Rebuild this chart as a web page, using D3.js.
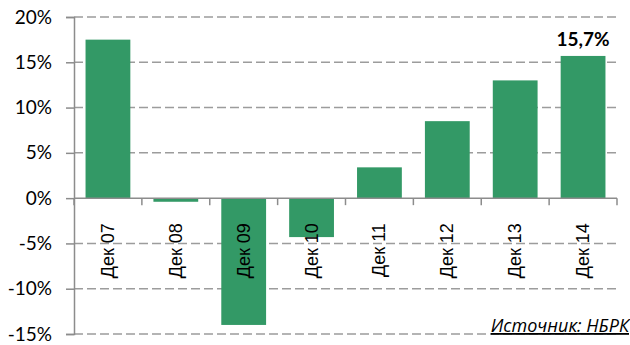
<!DOCTYPE html>
<html>
<head>
<meta charset="utf-8">
<script src="https://cdn.jsdelivr.net/npm/d3@7"></script>
<style>
  body { margin: 0; background: #fff; }
  svg { display: block; }
</style>
</head>
<body>
<div id="chart"></div>
<script>
// data
var months = ['Дек 07', 'Дек 08', 'Дек 09', 'Дек 10', 'Дек 11', 'Дек 12', 'Дек 13', 'Дек 14'];
var growth = [17.5, -0.4, -14.0, -4.3, 3.4, 8.5, 13.0, 15.7];
var yTicks = [-15, -10, -5, 0, 5, 10, 15, 20];
var labelText = '15,7%';
var sourceText = 'Источник: НБРК';

var svgWidth = 630;
var svgHeight = 345;

var margin = { top: 17, right: 13, bottom: 11, left: 74 };
var chartWidth = svgWidth - margin.left - margin.right;
var chartHeight = svgHeight - margin.top - margin.bottom;

var svg = d3.select('#chart').append('svg')
    .attr('width', svgWidth)
    .attr('height', svgHeight);

var g = svg.append('g')
    .attr('transform', `translate(${margin.left}, ${margin.top})`);

var xScale = d3.scaleBand()
    .domain(months)
    .range([0, chartWidth])
    .paddingInner(0.34)
    .paddingOuter(0.17);

var yScale = d3.scaleLinear()
    .domain([-15, 20])
    .range([chartHeight, 0]);

var gray = '#8c8c8c';

// dashed gridlines
g.append('g')
  .selectAll('line')
  .data(yTicks.filter(d => d !== 0))
  .enter().append('line')
    .attr('x1', 0)
    .attr('x2', chartWidth)
    .attr('y1', d => yScale(d))
    .attr('y2', d => yScale(d))
    .attr('stroke', '#9c9c9c')
    .attr('stroke-width', 1.5)
    .attr('stroke-dasharray', '9,4');

// bars
g.selectAll('rect')
  .data(growth)
  .enter().append('rect')
    .attr('x', (d, i) => xScale(months[i]))
    .attr('width', xScale.bandwidth())
    .attr('y', d => yScale(Math.max(0, d)))
    .attr('height', d => Math.abs(yScale(d) - yScale(0)))
    .attr('fill', '#339966');

// y axis
var yAxis = d3.axisLeft(yScale)
    .tickValues(yTicks)
    .tickSize(8)
    .tickPadding(14)
    .tickFormat(d => d + '%');

var yg = g.append('g').call(yAxis);
yg.select('.domain').attr('stroke', gray).attr('stroke-width', 1.5);
yg.selectAll('.tick line').attr('stroke', gray).attr('stroke-width', 1.5);
yg.selectAll('.tick text')
    .attr('font-family', 'Lato, "Open Sans", sans-serif')
    .attr('font-size', '19px')
    .attr('fill', '#000');

// zero line with ticks at category boundaries
var bounds = d3.range(months.length + 1).map(i => i * chartWidth / months.length);
g.append('line')
    .attr('x1', 0)
    .attr('x2', chartWidth)
    .attr('y1', yScale(0))
    .attr('y2', yScale(0))
    .attr('stroke', gray)
    .attr('stroke-width', 1.5);

g.append('g')
  .selectAll('line')
  .data(bounds)
  .enter().append('line')
    .attr('x1', d => d)
    .attr('x2', d => d)
    .attr('y1', yScale(0))
    .attr('y2', yScale(0) + 7)
    .attr('stroke', gray)
    .attr('stroke-width', 1.5);

// rotated category labels
g.append('g')
  .selectAll('text')
  .data(months)
  .enter().append('text')
    .attr('transform', d => `translate(${xScale(d) + xScale.bandwidth() / 2 + 6}, ${yScale(0) + 25}) rotate(-90)`)
    .attr('text-anchor', 'end')
    .attr('font-family', '"Liberation Sans", Arial, sans-serif')
    .attr('font-size', '18px')
    .attr('fill', '#000')
    .text(d => d);

// value label for the last bar
var last = months[months.length - 1];
g.append('text')
    .attr('x', xScale(last) + xScale.bandwidth() / 2)
    .attr('y', yScale(growth[growth.length - 1]) - 10)
    .attr('text-anchor', 'middle')
    .attr('font-family', 'Lato, "Open Sans", sans-serif')
    .attr('font-weight', 'bold')
    .attr('font-size', '19px')
    .attr('fill', '#000')
    .text(labelText);

// source note
svg.append('text')
    .attr('x', 629)
    .attr('y', 332)
    .attr('text-anchor', 'end')
    .attr('font-family', '"Open Sans", "Noto Sans", sans-serif')
    .attr('font-style', 'italic')
    .attr('font-size', '18px')
    .attr('text-decoration', 'underline')
    .attr('fill', '#000')
    .text(sourceText);
</script>
</body>
</html>
